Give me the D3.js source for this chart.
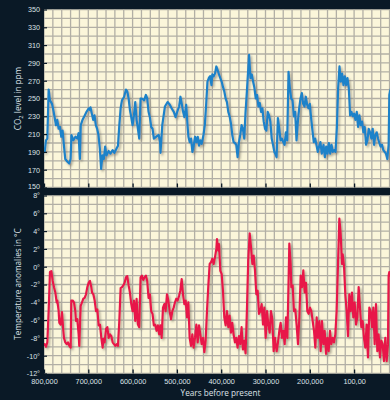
<!DOCTYPE html>
<html>
<head>
<meta charset="utf-8">
<script src="https://cdn.jsdelivr.net/npm/d3@7"></script>
<style>
  html, body { margin: 0; padding: 0; background: #0a1926; }
  svg { display: block; }
</style>
</head>
<body>
<svg id="chart" width="390" height="400"></svg>
<script>
// ---- data (age in thousands of years before present) ----
const co2Age = [800,798.5,795.5,792.5,789.5,786.5,782,779,776,773,770,767,764,761,758,755,752,747,743,740,738,734,729,725,722,719,717,713,708,704,699,696,695,692,689,686,683,680,677,674,671,668,665,662,659,654,650,645,641,636,633,630,627,624,619,615,612,609,606,603,600,597,594,591,588,585,582,579,574,570,567,564,561,558,555,552,547,541,538,
537,533,527,521,516,512,507,503,498,495,492,489,486,483,480,479,476,474,471,468,465,462,459,456,453,450,447,444,440,437,434,431,428,425,422,420,417,414,411,408,405,402,399,396,393,390,387,384,381,378,375,372,369,366,363,360,357,354,351,348,345,342,337,334,331,328,325,322,319,316,313,310,307,304,301,298,295,292,289,286,283,280,
278,275,272,269,266,263,260,257,254,251,248,245,242,239,236,233,230,227,224,221,218,215,212,209,206,203,200,197,194,191,188,185,182,179,176,173,169,166,163,160,157,154,151,148,145,142,139,136,133,130,127,124,121,118,115,112,109,106,103,100,97,94,91,88,85,82,79,76,73,70,67,64,61,58,55,52,49,46,43,40,37,34,31,28,25,22,20.5,19,16,12,8,4,0];
const co2Ppm = [189,190,203,205,260,248,244,237,229,220,226,216,218,207,214,197,182,179,177,182,209,203,207,205,211,182,220,226,231,235,239,237,240,233,226,231,220,216,209,194,171,186,182,196,186,191,188,192,189,194,197,220,239,248,252,260,258,250,237,229,220,231,246,226,216,205,250,250,248,254,250,235,229,218,216,205,207,209,201,
189,220,241,246,243,239,235,229,237,241,252,244,235,229,239,243,220,207,201,205,190,197,207,201,207,197,203,199,209,220,243,269,273,275,265,277,275,278,286,282,277,273,269,263,258,250,246,235,230,222,209,201,200,198,184,201,209,220,216,205,235,258,299,273,277,269,262,250,254,241,245,235,239,224,216,214,235,231,224,205,198,190,
188,184,228,216,203,205,201,198,212,203,280,262,250,248,230,235,203,224,239,250,256,244,241,252,243,239,244,228,214,201,205,198,190,196,201,188,198,184,196,188,200,188,198,190,192,190,216,262,286,269,278,265,275,265,273,262,231,235,230,233,226,235,218,231,220,224,212,218,198,203,216,212,205,216,198,209,212,205,200,196,198,192,190,188,182,198,254,258,262,265,268,274,280];

const tempAge = [800,798.5,795.5,792.5,789.5,786.5,783.4,780.4,777.4,774.4,771.4,769.9,766.9,765.4,762.4,759.4,756.4,754.9,751.9,748.8,745.8,742.8,739.8,738.3,735.3,732.3,729.3,727.8,724.8,721.8,720.3,718.7,717.2,714.2,711.2,708.2,705.2,702.2,699.2,696.2,693.2,691.6,688.6,685.6,682.6,679.6,676.6,673.6,670.6,667.6,666.1,663.1,660.1,657,654,651,648,645,642,639,636,633,630,627,624,621,618,615,612,609,606,603,600,597,594,591,588,585,582,579,576,573,570,567,564,561,558,555,552,549,546,543,540,
537.4,534.4,531.4,528.4,525.4,522.4,519.3,516.3,513.3,510.3,507.3,504.3,501.3,498.3,495.3,492.3,489.2,486.2,483.2,480.2,477.2,474.2,471.2,468.2,465.2,462.2,459.2,456.1,453.1,450.1,447.1,444.1,441.1,438.1,435.1,432.1,429,426,423,420,417,414,411,409.5,406.5,405,402,399,396,393,390,387,384,381,378,375,372,369,366,363,360,357,354,351,348,345,342,339,335.7,332.7,329.7,326.7,323.7,320.7,317.7,314.7,311.7,308.7,305.6,302.6,299.6,296.6,293.6,290.6,287.6,284.6,281.6,278.6,
277.8,274.8,271.8,268.8,265.8,262.8,259.8,256.7,253.7,250.7,247.7,246.2,243.2,241.7,238.7,235.7,232.7,229.7,226.6,223.6,220.6,217.6,214.6,211.6,208.6,205.6,202.6,199.6,196.5,193.5,190.5,187.5,184.5,181.5,178.5,175.5,172.5,169.4,166.4,163.4,160.4,157.4,154.4,151.4,148.4,145.4,142.4,139.4,136.3,133.3,130.3,127.3,125.8,122.8,119.8,116.8,113.8,110.8,107.8,104.8,101.8,98.7,95.7,92.7,89.7,86.7,83.7,80.7,77.7,74.7,71.7,68.7,65.6,62.6,59.6,56.6,53.6,50.6,47.6,44.6,41.6,38.6,35.6,32.5,29.5,26.5,23.5,22,20.5,19,15,10,5,0];
const tempC = [-8.9,-8.7,-9.0,-8.5,-5.0,-0.6,-0.5,-1.6,-2.3,-2.9,-4.0,-3.8,-5.0,-6.3,-6.5,-5.1,-7.2,-8.0,-8.5,-8.7,-8.5,-8.9,-9.1,-3.8,-3.8,-4.0,-5.0,-6.1,-5.9,-7.6,-8.9,-6.5,-4.4,-4.0,-3.6,-3.5,-3.1,-2.3,-1.8,-1.6,-2.3,-2.9,-3.1,-3.8,-5.0,-4.8,-6.6,-6.5,-8.0,-9.1,-8.1,-8.5,-7.0,-6.8,-8.0,-7.6,-7.8,-8.5,-8.7,-8.9,-8.7,-8.9,-6.1,-2.4,-2.3,-2.1,-1.8,-1.2,-1.05,-2.1,-2.9,-4.2,-5.0,-3.8,-6.1,-3.6,-6.5,-6.8,-1.2,-1.0,-1.5,-1.2,-1.0,-1.6,-3.5,-3.1,-5.0,-5.3,-6.6,-6.5,-7.2,-6.6,-7.6,
-6.6,-8.0,-4.6,-4.2,-5.0,-3.1,-3.8,-5.0,-5.9,-5.0,-4.6,-4.0,-3.6,-3.8,-3.3,-2.7,-1.4,-3.1,-4.2,-3.8,-5.7,-4.0,-8.0,-8.9,-7.6,-9.1,-8.0,-6.5,-8.5,-6.6,-7.6,-8.7,-8.0,-9.6,-8.3,-5.0,-2.1,0.3,0.5,0.9,0.3,1.05,2.0,3.1,1.8,2.55,-0.45,-0.8,-2.7,-5.7,-6.6,-5.0,-6.8,-5.5,-7.4,-6.3,-7.6,-8.5,-8.0,-9.1,-7.8,-8.7,-6.8,-9.3,-8.3,-9.75,-5.0,0.7,3.75,2.2,0.3,1.24,-0.45,-3.1,-2.7,-5.3,-5.0,-4.2,-6.5,-4.6,-8.0,-5.0,-6.5,-7.4,-5.0,-5.9,-9.5,-8.0,
-8.5,-9.5,-8.5,-7.2,-6.3,-8.0,-7.2,-8.7,-5.7,-8.0,-1.2,2.6,0.3,-2.3,-2.1,-5.0,-4.8,-6.6,-8.7,-5.7,-1.0,-2.3,-0.4,-2.9,-1.8,-5.0,-5.3,-4.6,-5.0,-6.1,-7.2,-9.1,-5.7,-8.0,-6.1,-9.5,-6.1,-8.7,-7.2,-9.8,-8.0,-9.5,-7.2,-8.7,-8.0,-8.5,-7.6,-5.0,0.3,5.4,3.7,0.3,1.4,0.1,-3.1,-5.0,-7.8,-3.1,-5.0,-2.9,-5.7,-4.0,-6.5,-5.7,-2.3,-4.6,-6.8,-6.1,-8.0,-9.1,-6.5,-10.2,-4.6,-5.0,-6.8,-4.6,-8.7,-4.2,-9.5,-7.6,-10.2,-8.3,-8.7,-10.6,-8.0,-10.6,-8.7,-1.0,-0.6,-1.0,-0.5,0.0,-0.2,0.3];

const co2Ticks = [150,170,190,210,230,250,270,290,310,330,350];
const tempTicks = [-12,-10,-8,-6,-4,-2,0,2,4,6,8];
const yearTicks = [800,700,600,500,400,300,200,100];
const yearLabels = ["800,000","700,000","600,000","500,000","400,000","300,000","200,000","100,00"];

// ---- drawing ----
const W = 390, H = 400;
const BG = "#0a1926", PANEL = "#fbf6da", GRID = "#b2afa5";
const FONT = "'Open Sans', 'DejaVu Sans', sans-serif";
const TICKFONT = "'Liberation Sans', Arial, sans-serif";
const TXT = "#dde2e6";
const svg = d3.select("#chart");

svg.append("rect").attr("width", W).attr("height", H).attr("fill", BG);

const defs = svg.append("defs");
const f = defs.append("filter").attr("id", "shadow").attr("x", "-5%").attr("y", "-5%").attr("width", "110%").attr("height", "120%");
f.append("feDropShadow").attr("dx", 1.6).attr("dy", 1.8).attr("stdDeviation", 0.9)
  .attr("flood-color", "#6b6456").attr("flood-opacity", 0.55);

const x = d3.scaleLinear().domain([800, 0]).range([44, 398.4]);
const yC = d3.scaleLinear().domain([150, 350]).range([187.5, 9.5]);
const yT = d3.scaleLinear().domain([-12, 8]).range([373.5, 195.5]);

const gridYears = d3.range(800, -1, -20);

function panel(id, yScale, ticks, gridStep, age, vals, color) {
  const [d0, d1] = yScale.domain();
  const top = yScale(d1), bot = yScale(d0);
  const left = x(800), right = x(0) + 10;
  defs.append("clipPath").attr("id", "clip" + id).append("rect")
    .attr("x", left).attr("y", top).attr("width", right - left).attr("height", bot - top);
  const g = svg.append("g");
  g.append("rect").attr("x", left).attr("y", top).attr("width", right - left).attr("height", bot - top).attr("fill", PANEL);
  const grid = g.append("g").attr("clip-path", `url(#clip${id})`).attr("stroke", GRID).attr("stroke-width", 1.3);
  grid.selectAll("line.v").data(gridYears).join("line")
    .attr("x1", d => x(d)).attr("x2", d => x(d)).attr("y1", top).attr("y2", bot);
  grid.selectAll("line.h").data(d3.range(d0, d1 + 0.001, gridStep)).join("line")
    .attr("x1", left).attr("x2", right).attr("y1", d => yScale(d)).attr("y2", d => yScale(d));

  const pts = age.map((a, i) => [a, vals[i]]);
  const line = d3.line().x(d => x(d[0])).y(d => yScale(d[1]));
  g.append("g").attr("clip-path", `url(#clip${id})`).append("path")
    .attr("d", line(pts)).attr("fill", "none").attr("stroke", color)
    .attr("stroke-width", 2.2).attr("stroke-linejoin", "round").attr("filter", "url(#shadow)");

  // left axis (ticks point inward)
  const ax = d3.axisLeft(yScale).tickValues(ticks).tickSize(-3).tickPadding(4)
    .tickFormat(id === "T" ? (d => d + "°") : d3.format("d"));
  const ga = svg.append("g").attr("transform", `translate(${left},0)`).call(ax);
  ga.select(".domain").remove();
  ga.selectAll(".tick line").attr("stroke", BG).attr("stroke-width", 1.2);
  ga.selectAll(".tick text").attr("fill", TXT).style("font-family", TICKFONT).style("font-size", "7.2px");
  if (id === "C") ga.selectAll(".tick text").filter(d => d === 150).attr("dy", "0.2em");

  // bottom inward ticks
  const bx = d3.axisBottom(x).tickValues(yearTicks).tickSize(-4).tickPadding(5.6)
    .tickFormat((d, i) => id === "T" ? yearLabels[i] : "");
  const gb = svg.append("g").attr("transform", `translate(0,${bot})`).call(bx);
  gb.select(".domain").remove();
  gb.selectAll(".tick line").attr("stroke", BG).attr("stroke-width", 1.3);
  gb.selectAll(".tick text").attr("fill", TXT).style("font-family", TICKFONT).style("font-size", "7.3px");
}

panel("C", yC, co2Ticks, 10, co2Age, co2Ppm, "#1b82c9");
panel("T", yT, tempTicks, 1, tempAge, tempC, "#e8184a");

// axis titles
const t1 = svg.append("text").attr("transform", "translate(21,98.5) rotate(-90)")
  .attr("text-anchor", "middle").attr("fill", TXT)
  .style("font-family", FONT).style("font-size", "8.2px");
t1.append("tspan").text("CO");
t1.append("tspan").text("2").attr("dy", 2).style("font-size", "5.8px");
t1.append("tspan").text(" level in ppm").attr("dy", -2);

svg.append("text").attr("transform", "translate(21,284) rotate(-90)")
  .attr("text-anchor", "middle").attr("fill", TXT)
  .style("font-family", FONT).style("font-size", "8.2px")
  .text("Temperature anomalies in °C");

svg.append("text").attr("x", 220.5).attr("y", 395.5).attr("text-anchor", "middle")
  .attr("fill", TXT).style("font-family", FONT).style("font-size", "8.2px")
  .text("Years before present");
</script>
</body>
</html>
